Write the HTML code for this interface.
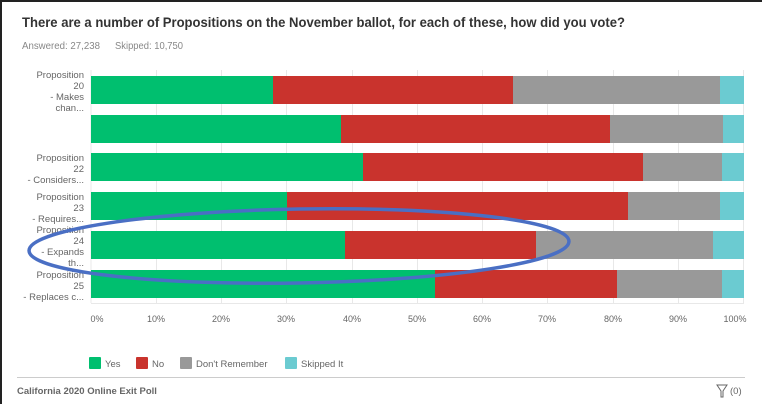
<!DOCTYPE html>
<html><head><meta charset="utf-8"><style>
html,body{margin:0;padding:0;background:#fff;}
body{width:762px;height:404px;overflow:hidden;position:relative;font-family:"Liberation Sans",sans-serif;}
</style></head><body>
<svg width="762" height="404" viewBox="0 0 762 404" xmlns="http://www.w3.org/2000/svg" style="position:absolute;left:0;top:0">
<rect x="0" y="0" width="762" height="404" fill="#fff"/>
<rect x="0" y="0" width="762" height="2" fill="#222"/>
<rect x="0" y="0" width="2" height="404" fill="#222"/>
<text x="22" y="27" font-size="14" font-weight="bold" fill="#333" textLength="603" lengthAdjust="spacingAndGlyphs">There are a number of Propositions on the November ballot, for each of these, how did you vote?</text>
<text x="22" y="49" font-size="10" fill="#888" textLength="78" lengthAdjust="spacingAndGlyphs">Answered: 27,238</text>
<text x="115" y="49" font-size="10" fill="#888" textLength="68" lengthAdjust="spacingAndGlyphs">Skipped: 10,750</text>
<g stroke="#e8e8e8" stroke-width="1">
<line x1="91" y1="70" x2="91" y2="303"/>
<line x1="156.5" y1="70" x2="156.5" y2="303"/>
<line x1="221.5" y1="70" x2="221.5" y2="303"/>
<line x1="286.5" y1="70" x2="286.5" y2="303"/>
<line x1="352.5" y1="70" x2="352.5" y2="303"/>
<line x1="417.5" y1="70" x2="417.5" y2="303"/>
<line x1="482.5" y1="70" x2="482.5" y2="303"/>
<line x1="547.5" y1="70" x2="547.5" y2="303"/>
<line x1="613.5" y1="70" x2="613.5" y2="303"/>
<line x1="678.5" y1="70" x2="678.5" y2="303"/>
<line x1="743.5" y1="70" x2="743.5" y2="303"/>
<line x1="91" y1="303.5" x2="744" y2="303.5"/>
</g>
<g>
<rect x="91" y="76" width="182" height="28" fill="#00bf6f"/><rect x="273" y="76" width="240" height="28" fill="#c9332d"/><rect x="513" y="76" width="207" height="28" fill="#999"/><rect x="720" y="76" width="24" height="28" fill="#6bcbd1"/>
<rect x="91" y="115" width="250" height="28" fill="#00bf6f"/><rect x="341" y="115" width="269" height="28" fill="#c9332d"/><rect x="610" y="115" width="113" height="28" fill="#999"/><rect x="723" y="115" width="21" height="28" fill="#6bcbd1"/>
<rect x="91" y="153" width="272" height="28" fill="#00bf6f"/><rect x="363" y="153" width="280" height="28" fill="#c9332d"/><rect x="643" y="153" width="79" height="28" fill="#999"/><rect x="722" y="153" width="22" height="28" fill="#6bcbd1"/>
<rect x="91" y="192" width="196" height="28" fill="#00bf6f"/><rect x="287" y="192" width="341" height="28" fill="#c9332d"/><rect x="628" y="192" width="92" height="28" fill="#999"/><rect x="720" y="192" width="24" height="28" fill="#6bcbd1"/>
<rect x="91" y="231" width="254" height="28" fill="#00bf6f"/><rect x="345" y="231" width="191" height="28" fill="#c9332d"/><rect x="536" y="231" width="177" height="28" fill="#999"/><rect x="713" y="231" width="31" height="28" fill="#6bcbd1"/>
<rect x="91" y="270" width="344" height="28" fill="#00bf6f"/><rect x="435" y="270" width="182" height="28" fill="#c9332d"/><rect x="617" y="270" width="105" height="28" fill="#999"/><rect x="722" y="270" width="22" height="28" fill="#6bcbd1"/>
</g>
<g font-size="9.5" fill="#666" text-anchor="end">
<text x="84" y="78">Proposition</text><text x="84" y="89">20</text><text x="84" y="100">- Makes</text><text x="84" y="111">chan...</text>
<text x="84" y="161">Proposition</text><text x="84" y="172">22</text><text x="84" y="183">- Considers...</text>
<text x="84" y="200">Proposition</text><text x="84" y="211">23</text><text x="84" y="222">- Requires...</text>
<text x="84" y="233">Proposition</text><text x="84" y="244">24</text><text x="84" y="255">- Expands</text><text x="84" y="266">th...</text>
<text x="84" y="278">Proposition</text><text x="84" y="289">25</text><text x="84" y="300">- Replaces c...</text>
</g>
<g font-size="9" fill="#666" text-anchor="middle">
<text x="97" y="322">0%</text><text x="156" y="322">10%</text><text x="221" y="322">20%</text><text x="286" y="322">30%</text><text x="352" y="322">40%</text><text x="417" y="322">50%</text><text x="482" y="322">60%</text><text x="547" y="322">70%</text><text x="613" y="322">80%</text><text x="678" y="322">90%</text><text x="735" y="322">100%</text>
</g>
<g font-size="9.5" fill="#666">
<rect x="89" y="357" width="12" height="12" rx="1" fill="#00bf6f"/><text x="105" y="367">Yes</text>
<rect x="136" y="357" width="12" height="12" rx="1" fill="#c9332d"/><text x="152" y="367">No</text>
<rect x="180" y="357" width="12" height="12" rx="1" fill="#999"/><text x="196" y="367">Don't Remember</text>
<rect x="285" y="357" width="12" height="12" rx="1" fill="#6bcbd1"/><text x="301" y="367">Skipped It</text>
</g>
<line x1="17" y1="377.5" x2="745" y2="377.5" stroke="#ccc" stroke-width="1"/>
<text x="17" y="394" font-size="9.5" font-weight="bold" fill="#666">California 2020 Online Exit Poll</text>
<path d="M717 385 L727 385 L723 391 L723 397 L721 397 L721 391 Z" fill="none" stroke="#666" stroke-width="1"/>
<text x="730" y="394" font-size="9.5" fill="#666">(0)</text>
<ellipse cx="299" cy="246" rx="270" ry="37" fill="none" stroke="#4a6fc4" stroke-width="3.5" transform="rotate(-1 299 246)"/>
</svg>
</body></html>
